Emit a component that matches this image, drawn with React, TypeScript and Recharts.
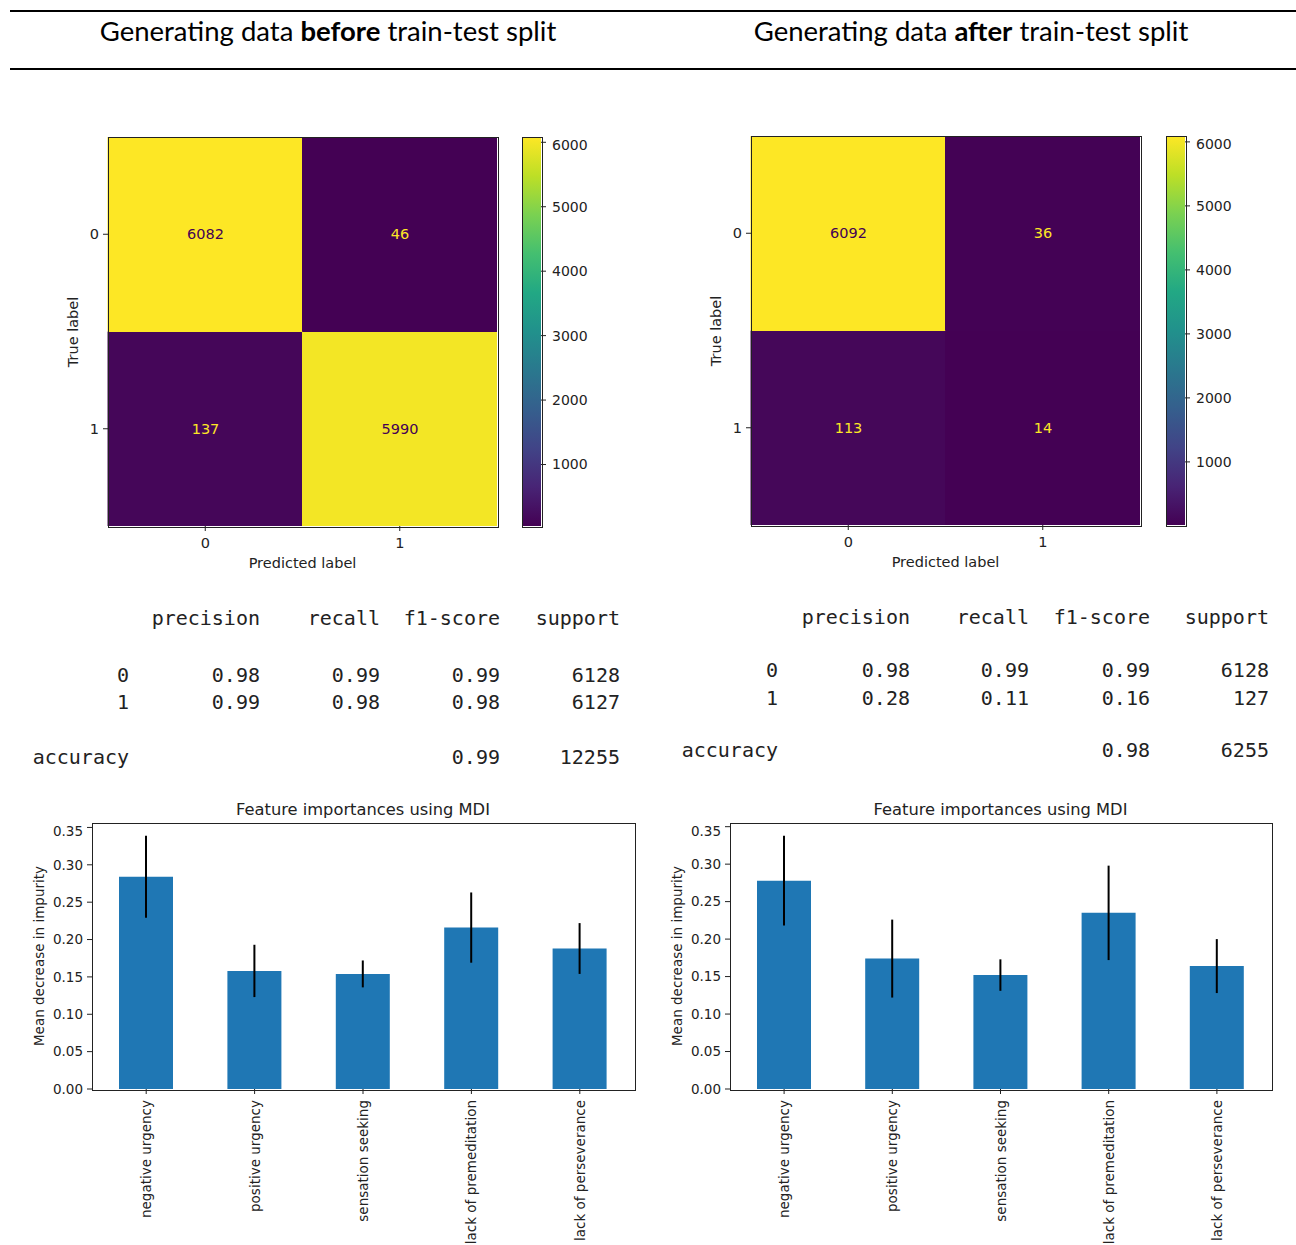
import React from 'react';
import { BarChart, Bar, XAxis, YAxis, Cell, LabelList, ErrorBar } from 'recharts';

// ---------- data ----------
const predictedLabels = ['0', '1'];
const trueLabels = ['0', '1'];
const cmBefore = [
  [6082, 46],
  [137, 5990],
];
const cmAfter = [
  [6092, 36],
  [113, 14],
];
const colorbarTicks = [1000, 2000, 3000, 4000, 5000, 6000];

const features = [
  'negative urgency',
  'positive urgency',
  'sensation seeking',
  'lack of premeditation',
  'lack of perseverance',
];
const importanceBefore = [0.284, 0.158, 0.154, 0.216, 0.188];
const stdBefore = [0.055, 0.035, 0.018, 0.047, 0.034];
const importanceAfter = [0.278, 0.174, 0.152, 0.235, 0.164];
const stdAfter = [0.06, 0.052, 0.021, 0.063, 0.036];
const importanceTicks = [0, 0.05, 0.1, 0.15, 0.2, 0.25, 0.3, 0.35];

const reportColumns = ['precision', 'recall', 'f1-score', 'support'];
const reportBefore = [
  ['0', '0.98', '0.99', '0.99', '6128'],
  ['1', '0.99', '0.98', '0.98', '6127'],
];
const accuracyBefore = ['0.99', '12255'];
const reportAfter = [
  ['0', '0.98', '0.99', '0.99', '6128'],
  ['1', '0.28', '0.11', '0.16', '127'],
];
const accuracyAfter = ['0.98', '6255'];

// ---------- helpers ----------
const VIRIDIS = ['#440154', '#482475', '#414487', '#355f8d', '#2a788e', '#21918c', '#22a884', '#44bf70', '#7ad151', '#bddf26', '#fde725'];

function hexToRgb(h: string) {
  return [parseInt(h.slice(1, 3), 16), parseInt(h.slice(3, 5), 16), parseInt(h.slice(5, 7), 16)];
}
function viridis(t: number) {
  const tt = Math.max(0, Math.min(1, t));
  const p = tt * (VIRIDIS.length - 1);
  const i = Math.min(Math.floor(p), VIRIDIS.length - 2);
  const f = p - i;
  const a = hexToRgb(VIRIDIS[i]);
  const b = hexToRgb(VIRIDIS[i + 1]);
  const c = a.map((v, k) => Math.round(v + (b[k] - v) * f));
  return `rgb(${c[0]},${c[1]},${c[2]})`;
}

const MPL_FONT = '"DejaVu Sans", sans-serif';
const MONO_FONT = '"DejaVu Sans Mono", monospace';
const INK = '#222';

type TxtProps = { x: number; y: number; anchor?: 'start' | 'middle' | 'end'; rotate?: boolean; style?: React.CSSProperties; children: React.ReactNode };
function Txt({ x, y, anchor = 'middle', rotate = false, style, children }: TxtProps) {
  const tx = anchor === 'middle' ? '-50%' : anchor === 'end' ? '-100%' : '0';
  return (
    <div
      style={{
        position: 'absolute',
        left: x,
        top: y,
        whiteSpace: 'nowrap',
        lineHeight: 1,
        transform: `translate(${tx}, -50%)${rotate ? ' rotate(-90deg)' : ''}`,
        transformOrigin: rotate ? 'center center' : undefined,
        ...style,
      }}
    >
      {children}
    </div>
  );
}

function Frame({ left, top, width, height }: { left: number; top: number; width: number; height: number }) {
  return (
    <div
      style={{
        position: 'absolute',
        left: left - 0.5,
        top: top - 0.5,
        width,
        height,
        border: `1px solid ${INK}`,
        pointerEvents: 'none',
      }}
    />
  );
}

// ---------- confusion matrix ----------
const CM_SIZE = 389;
const CM_YAXIS_W = 30;
const CM_XAXIS_H = 30;

function ConfusionMatrix({ cm, plotLeft, plotTop }: { cm: number[][]; plotLeft: number; plotTop: number }) {
  const flat = cm.flat();
  const vmin = Math.min(...flat);
  const vmax = Math.max(...flat);
  const mid = (vmin + vmax) / 2;
  const data = predictedLabels.map((p, j) => ({ pred: p, row0: 1, row1: 1, v0: cm[0][j], v1: cm[1][j] }));

  const renderLabel = (props: any) => {
    const vb = props.viewBox || {};
    const x = props.x ?? vb.x;
    const y = props.y ?? vb.y;
    const w = props.width ?? vb.width;
    const h = props.height ?? vb.height;
    const value = props.value;
    return (
      <text
        x={x + w / 2}
        y={y + h / 2}
        textAnchor="middle"
        dominantBaseline="central"
        fontFamily={MPL_FONT}
        fontSize={14.5}
        fill={value > mid ? VIRIDIS[0] : VIRIDIS[VIRIDIS.length - 1]}
      >
        {value}
      </text>
    );
  };

  return (
    <>
      <div style={{ position: 'absolute', left: plotLeft - CM_YAXIS_W, top: plotTop }}>
        <BarChart
          width={CM_YAXIS_W + CM_SIZE}
          height={CM_SIZE + CM_XAXIS_H}
          data={data}
          margin={{ top: 0, right: 0, bottom: 0, left: 0 }}
          barCategoryGap={0}
          barGap={0}
        >
          <XAxis
            dataKey="pred"
            height={CM_XAXIS_H}
            axisLine={false}
            tickSize={5}
            tickMargin={7}
            tickLine={{ stroke: INK }}
            tick={{ fill: INK, fontSize: 14.5, fontFamily: MPL_FONT }}
          />
          <YAxis
            type="number"
            domain={[0, 2]}
            allowDataOverflow
            ticks={[0.5, 1.5]}
            tickFormatter={(v: number) => (v === 1.5 ? trueLabels[0] : trueLabels[1])}
            width={CM_YAXIS_W}
            axisLine={false}
            tickSize={5}
            tickMargin={4}
            tickLine={{ stroke: INK }}
            tick={{ fill: INK, fontSize: 14.5, fontFamily: MPL_FONT }}
          />
          <Bar dataKey="row1" stackId="cm" isAnimationActive={false}>
            {data.map((d, i) => {
              const c = viridis((d.v1 - vmin) / (vmax - vmin));
              return <Cell key={`r1-${i}`} fill={c} stroke={c} strokeWidth={1} />;
            })}
            <LabelList dataKey="v1" content={renderLabel} />
          </Bar>
          <Bar dataKey="row0" stackId="cm" isAnimationActive={false}>
            {data.map((d, i) => {
              const c = viridis((d.v0 - vmin) / (vmax - vmin));
              return <Cell key={`r0-${i}`} fill={c} stroke={c} strokeWidth={1} />;
            })}
            <LabelList dataKey="v0" content={renderLabel} />
          </Bar>
        </BarChart>
      </div>
      <Frame left={plotLeft} top={plotTop} width={CM_SIZE} height={CM_SIZE} />
      <Txt x={plotLeft + CM_SIZE / 2} y={plotTop + CM_SIZE + 37} style={{ fontFamily: MPL_FONT, fontSize: 14.5, color: INK }}>
        Predicted label
      </Txt>
      <Txt x={plotLeft - 35} y={plotTop + CM_SIZE / 2} rotate style={{ fontFamily: MPL_FONT, fontSize: 14.5, color: INK }}>
        True label
      </Txt>
    </>
  );
}

function Colorbar({ cm, plotLeft, plotTop, id }: { cm: number[][]; plotLeft: number; plotTop: number; id: string }) {
  const flat = cm.flat();
  const vmin = Math.min(...flat);
  const vmax = Math.max(...flat);
  const data = [{ name: 'cb', range: [vmin, vmax] }];
  const barW = 19;
  return (
    <>
      <div style={{ position: 'absolute', left: plotLeft, top: plotTop }}>
        <BarChart width={barW + 60} height={CM_SIZE} data={data} margin={{ top: 0, right: 0, bottom: 0, left: 0 }} barCategoryGap={0}>
          <defs>
            <linearGradient id={id} x1="0" y1="1" x2="0" y2="0">
              {VIRIDIS.map((c, i) => (
                <stop key={c} offset={i / (VIRIDIS.length - 1)} stopColor={c} />
              ))}
            </linearGradient>
          </defs>
          <XAxis dataKey="name" hide />
          <YAxis
            orientation="right"
            type="number"
            domain={[vmin, vmax]}
            allowDataOverflow
            ticks={colorbarTicks}
            width={60}
            axisLine={false}
            tickSize={5}
            tickMargin={6}
            tickLine={{ stroke: INK }}
            tick={{ fill: INK, fontSize: 14, fontFamily: MPL_FONT, textAnchor: 'start' }}
          />
          <Bar dataKey="range" fill={`url(#${id})`} isAnimationActive={false} />
        </BarChart>
      </div>
      <Frame left={plotLeft} top={plotTop} width={barW} height={CM_SIZE} />
    </>
  );
}

// ---------- classification report ----------
function Report({
  rows,
  accuracy,
  labelRight,
  colRights,
  headerY,
  rowYs,
  accY,
}: {
  rows: string[][];
  accuracy: string[];
  labelRight: number;
  colRights: number[];
  headerY: number;
  rowYs: number[];
  accY: number;
}) {
  const st: React.CSSProperties = { fontFamily: MONO_FONT, fontSize: 20, color: '#222' };
  return (
    <>
      {reportColumns.map((c, i) => (
        <Txt key={c} x={colRights[i]} y={headerY} anchor="end" style={st}>
          {c}
        </Txt>
      ))}
      {rows.map((r, ri) =>
        r.map((cell, ci) => (
          <Txt key={`${ri}-${ci}`} x={ci === 0 ? labelRight : colRights[ci - 1]} y={rowYs[ri]} anchor="end" style={st}>
            {cell}
          </Txt>
        ))
      )}
      <Txt x={labelRight} y={accY} anchor="end" style={st}>
        accuracy
      </Txt>
      <Txt x={colRights[2]} y={accY} anchor="end" style={st}>
        {accuracy[0]}
      </Txt>
      <Txt x={colRights[3]} y={accY} anchor="end" style={st}>
        {accuracy[1]}
      </Txt>
    </>
  );
}

// ---------- feature importances ----------
const IMP_YAXIS_W = 40;
const IMP_XAXIS_H = 170;

const RotatedTick = (props: any) => {
  const { x, y, payload } = props;
  return (
    <text
      x={x}
      y={y}
      transform={`rotate(-90 ${x} ${y})`}
      textAnchor="end"
      dominantBaseline="central"
      fontFamily={MPL_FONT}
      fontSize={13.5}
      fill={INK}
    >
      {payload.value}
    </text>
  );
};

function ImportanceChart({
  values,
  errs,
  plotLeft,
  plotTop,
  plotW,
  plotH,
}: {
  values: number[];
  errs: number[];
  plotLeft: number;
  plotTop: number;
  plotW: number;
  plotH: number;
}) {
  const data = features.map((f, i) => ({ feature: f, value: values[i], err: errs[i] }));
  const yMax = Math.max(...data.map((d) => d.value + d.err)) * 1.05;
  const fs = 13.5;
  return (
    <>
      <div style={{ position: 'absolute', left: plotLeft - IMP_YAXIS_W, top: plotTop }}>
        <BarChart
          width={IMP_YAXIS_W + plotW}
          height={plotH + IMP_XAXIS_H}
          data={data}
          margin={{ top: 0, right: 0, bottom: 0, left: 0 }}
        >
          <XAxis
            dataKey="feature"
            height={IMP_XAXIS_H}
            interval={0}
            axisLine={false}
            tickSize={5}
            tickMargin={6}
            tickLine={{ stroke: INK }}
            tick={<RotatedTick />}
          />
          <YAxis
            type="number"
            domain={[0, yMax]}
            allowDataOverflow
            ticks={importanceTicks}
            tickFormatter={(v: number) => v.toFixed(2)}
            width={IMP_YAXIS_W}
            axisLine={false}
            tickSize={5}
            tickMargin={4}
            tickLine={{ stroke: INK }}
            tick={{ fill: INK, fontSize: fs, fontFamily: MPL_FONT }}
          />
          <Bar dataKey="value" fill="#1f77b4" barSize={54} isAnimationActive={false}>
            <ErrorBar dataKey="err" width={0} stroke="#000" strokeWidth={2} direction="y" />
          </Bar>
        </BarChart>
      </div>
      <Frame left={plotLeft} top={plotTop} width={plotW} height={plotH} />
      <Txt x={plotLeft + plotW / 2} y={plotTop - 13} style={{ fontFamily: MPL_FONT, fontSize: 16.3, color: INK }}>
        Feature importances using MDI
      </Txt>
      <Txt x={plotLeft - 52} y={plotTop + plotH / 2} rotate style={{ fontFamily: MPL_FONT, fontSize: fs, color: INK }}>
        Mean decrease in impurity
      </Txt>
    </>
  );
}

// ---------- app ----------
export default function App() {
  const headerStyle: React.CSSProperties = { fontFamily: 'Lato, "Open Sans", sans-serif', fontSize: 27.5, color: '#000' };
  return (
    <div
      style={{
        position: 'absolute',
        left: 0,
        top: 0,
        width: 1296,
        height: 1245,
        overflow: 'hidden',
        background: '#fff',
      }}
    >
      {/* header */}
      <div style={{ position: 'absolute', left: 10, top: 10, width: 1286, height: 2, background: '#000' }} />
      <div style={{ position: 'absolute', left: 10, top: 68, width: 1286, height: 2, background: '#000' }} />
      <Txt x={328} y={31} style={headerStyle}>
        Generating data <b>before</b> train-test split
      </Txt>
      <Txt x={971} y={31} style={headerStyle}>
        Generating data <b>after</b> train-test split
      </Txt>

      {/* confusion matrices */}
      <ConfusionMatrix cm={cmBefore} plotLeft={108} plotTop={137} />
      <Colorbar cm={cmBefore} plotLeft={522} plotTop={137} id="viridisLeft" />
      <ConfusionMatrix cm={cmAfter} plotLeft={751} plotTop={136} />
      <Colorbar cm={cmAfter} plotLeft={1166} plotTop={136} id="viridisRight" />

      {/* classification reports */}
      <Report
        rows={reportBefore}
        accuracy={accuracyBefore}
        labelRight={129}
        colRights={[260, 380, 500, 620]}
        headerY={618}
        rowYs={[675, 702]}
        accY={757}
      />
      <Report
        rows={reportAfter}
        accuracy={accuracyAfter}
        labelRight={778}
        colRights={[910, 1029, 1150, 1269]}
        headerY={617}
        rowYs={[670, 698]}
        accY={750}
      />

      {/* feature importances */}
      <ImportanceChart values={importanceBefore} errs={stdBefore} plotLeft={92} plotTop={823} plotW={542} plotH={266} />
      <ImportanceChart values={importanceAfter} errs={stdAfter} plotLeft={730} plotTop={823} plotW={541} plotH={266} />
    </div>
  );
}
